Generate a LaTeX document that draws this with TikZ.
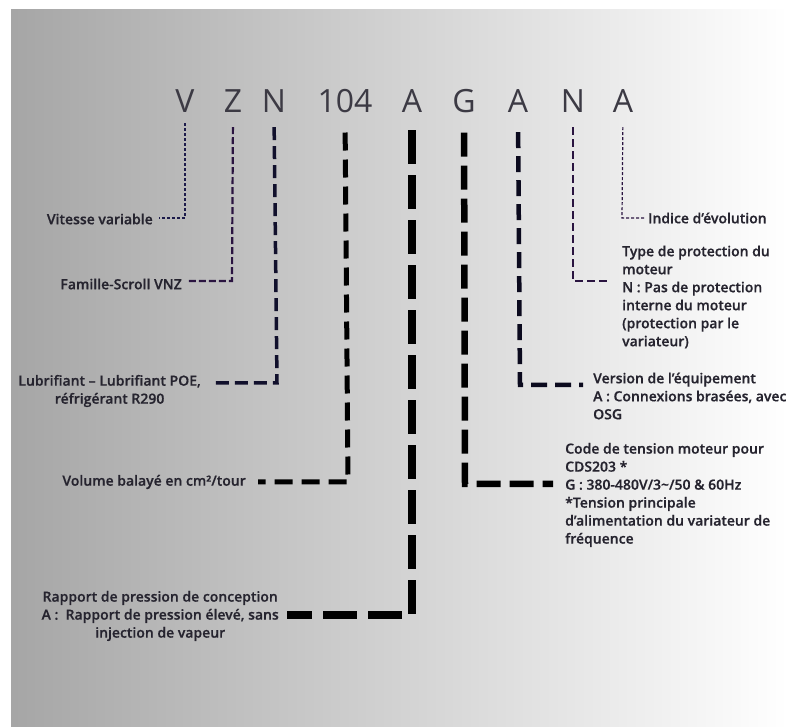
\documentclass[tikz,border=0pt]{standalone}
\usepackage{fontspec}
\setmainfont{Open Sans}
\newfontfamily\labelfont{Open Sans Semibold}[FakeBold=0.6]
\usepackage{tikz}
\usetikzlibrary{calc}

\definecolor{inkdark}{HTML}{26242F}
\definecolor{navyline}{HTML}{1C1A4A}
\definecolor{plumline}{HTML}{2A1440}

\tikzset{
    code/.style={anchor=base, inner sep=0pt, text=inkdark!90, font=\fontsize{32}{38}\selectfont},
    lbl/.style={inner sep=0pt, text=inkdark, font=\labelfont\fontsize{14}{18}\selectfont},
    lead/.style n args={4}{draw=#1, line width=#2pt, dash pattern=on #3pt off #4pt}
}

\begin{document}
\begin{tikzpicture}[x=1pt, y=-1pt]
    \fill[white] (0,0) rectangle (788,727);
    \shade[left color=gray!70, right color=white] (11,10) rectangle (788,727);
    % the code letters
    \foreach \name/\x/\txt in {V/185/V, Z/233/Z, N/274/N, vol/345/104, A/412/A,
                               G/464/G, Av/518/A, Np/573/N, Ai/623/A}
        \node[code] (l\name) at (\x, 113) {\txt};
    % corners
    \coordinate (cV) at (185, 218);
    \coordinate (cZ) at (232, 281);
    \coordinate (cN) at (277, 383);
    \coordinate (cvol) at (348, 482);
    \coordinate (cA) at (412, 615);
    \coordinate (cG) at (465, 484);
    \coordinate (cAv) at (520, 385);
    \coordinate (cNp) at (573, 281);
    \coordinate (cAi) at (622, 218);
    % labels
    \node[lbl, anchor=east] (tV) at (153, 219) {Vitesse variable};
    \node[lbl, anchor=east] (tZ) at (182, 284) {Famille-Scroll VNZ};
    \node[lbl, anchor=east, align=center] (tN) at (201, 391)
        {Lubrifiant – Lubrifiant POE,\\ réfrigérant R290};
    \node[lbl, anchor=east] (tvol) at (246, 482) {Volume balayé en cm²/tour};
    \node[lbl, anchor=east, align=center] (tA) at (279, 616)
        {Rapport de pression de conception\\ A :\ \ Rapport de pression élevé, sans\\ injection de vapeur};
    \node[lbl, anchor=west, align=left] (tG) at (565, 495)
        {Code de tension moteur pour\\ CDS203 *\\ G : 380-480V/3\textasciitilde/50 \& 60Hz\\
         *Tension principale\\ d’alimentation du variateur de\\ fréquence};
    \node[lbl, anchor=west, align=left] (tAv) at (593, 396)
        {Version de l’équipement\\ A : Connexions brasées, avec\\ OSG};
    \node[lbl, anchor=west, align=left] (tNp) at (622, 297)
        {Type de protection du\\ moteur\\ N : Pas de protection\\ interne du moteur\\
         (protection par le\\ variateur)};
    \node[lbl, anchor=west] (tAi) at (648, 218) {Indice d’évolution};
    % leader lines
    \draw[lead={navyline}{1.2}{3}{2}, shorten <=10pt, shorten >=6pt] (lV.south) -- (cV) -- (cV -| tV.east);
    \draw[lead={plumline}{2.2}{7}{3}, shorten <=14pt, shorten >=6pt] (lZ.south) -- (cZ) -- (cZ -| tZ.east);
    \draw[lead={navyline!60!black}{3.5}{13}{6}, shorten <=14pt, shorten >=11pt] (lN.south) -- (cN) -- (cN -| tN.east);
    \draw[lead={black}{5}{18}{9}, shorten <=19pt, shorten >=12pt] (lvol.south) -- (cvol) -- (cvol -| tvol.east);
    \draw[lead={black}{8}{34}{11}, shorten <=17pt, shorten >=8pt] (lA.south) -- (cA) -- (cA -| tA.east);
    \draw[lead={black}{6.5}{24}{9}, shorten <=19pt, shorten >=12pt] (lG.south) -- (cG) -- (cG -| tG.west);
    \draw[lead={navyline!40!black}{4.5}{16}{8}, shorten <=19pt, shorten >=10pt] (lAv.south) -- (cAv) -- (cAv -| tAv.west);
    \draw[lead={plumline}{2.5}{8}{4}, shorten <=14pt, shorten >=12pt] (lNp.south) -- (cNp) -- (cNp -| tNp.west);
    \draw[lead={plumline}{1.2}{3}{2}, shorten <=14pt, shorten >=2pt] (lAi.south) -- (cAi) -- (cAi -| tAi.west);
\end{tikzpicture}
\end{document}
